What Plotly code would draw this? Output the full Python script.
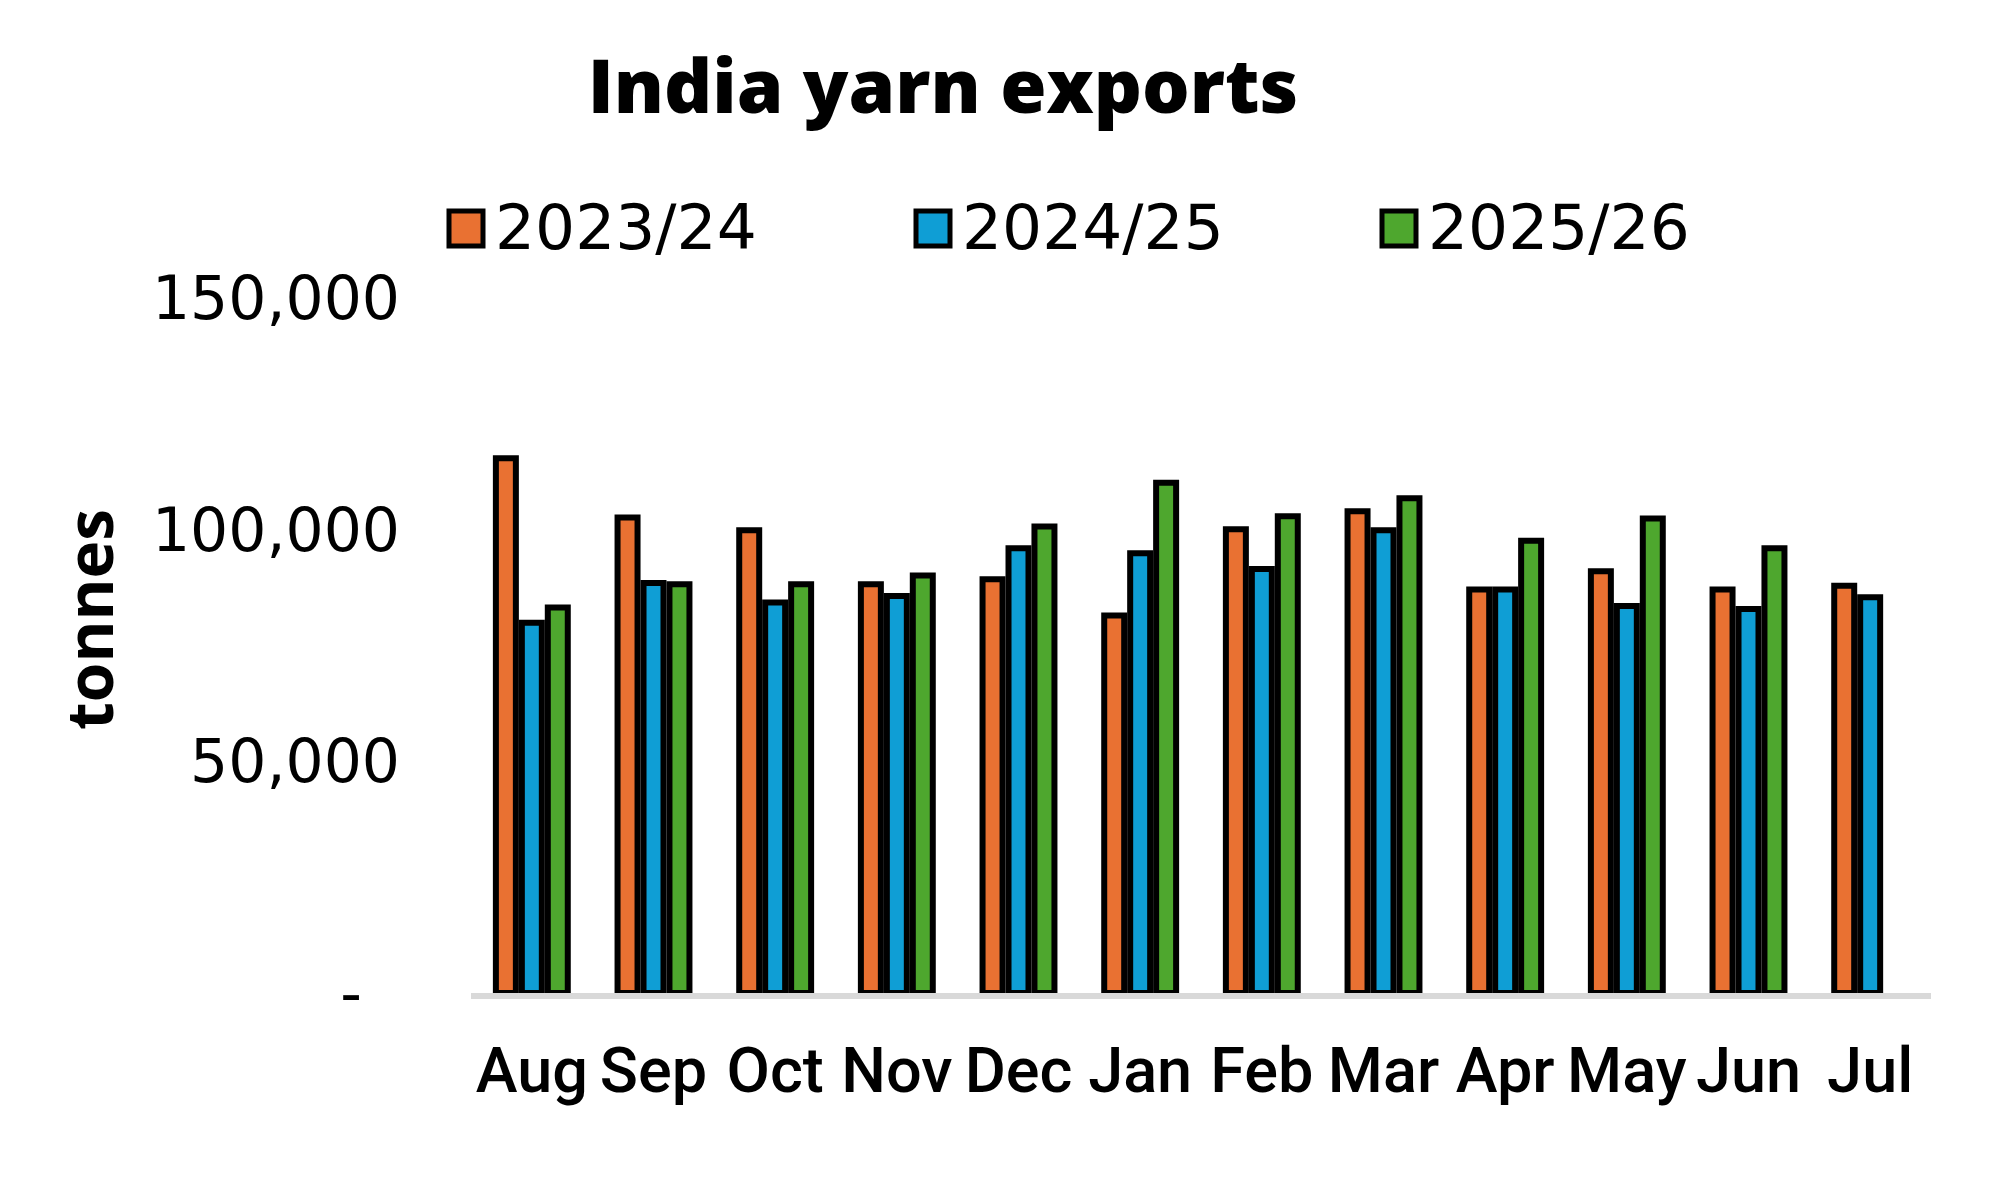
import plotly.graph_objects as go

months = ['Aug', 'Sep', 'Oct', 'Nov', 'Dec', 'Jan', 'Feb', 'Mar', 'Apr', 'May', 'Jun', 'Jul']

y2023_24 = [115400, 102600, 99900, 88200, 89300, 81500, 100100, 104000, 87100, 91000, 87100, 87900]
y2024_25 = [79900, 88500, 84300, 85700, 96000, 94900, 91500, 99900, 87100, 83500, 82900, 85400]
y2025_26 = [83200, 88200, 88200, 90100, 100700, 110100, 102900, 106800, 97600, 102400, 96000, None]

series_names = ['2023/24', '2024/25', '2025/26']
series_colors = ['#E97132', '#0F9ED5', '#4EA72E']

tick_vals = [0, 50000, 100000, 150000]
tick_text = ['-\u00a0\u00a0', '50,000', '100,000', '150,000']

# figure size and plot area in pixels
W, H = 2010, 1180
L, R, T, B = 463, 87, 290, 195


def px_x(x):
    return (x - L) / (W - L - R)


def px_y(y):
    return (H - B - y) / (H - T - B)


fig = go.Figure()
for name, vals, col in zip(series_names, [y2023_24, y2024_25, y2025_26], series_colors):
    fig.add_trace(go.Bar(
        x=months, y=vals, name=name,
        marker=dict(color=col, line=dict(color='black', width=6)),
    ))

## legend drawn by hand so the squares can be large
leg_sq_x = [441, 908, 1374]
for i, (name, col) in enumerate(zip(series_names, series_colors)):
    x0 = leg_sq_x[i]
    fig.add_shape(type='rect', xref='paper', yref='paper',
                  x0=px_x(x0), x1=px_x(x0 + 34), y0=px_y(238), y1=px_y(203),
                  fillcolor=col, line=dict(color='black', width=5))
    fig.add_annotation(text=name, xref='paper', yref='paper',
                       x=px_x(x0 + 44), y=px_y(219), xanchor='left', yanchor='middle',
                       showarrow=False, font=dict(family='DejaVu Sans', size=63, color='black'))

fig.add_annotation(text='tonnes', xref='paper', yref='paper', textangle=-90,
                   x=px_x(80), y=px_y(612), xanchor='center', yanchor='middle',
                   showarrow=False, font=dict(family='Open Sans', size=64, color='black', weight=700))

fig.update_layout(
    width=W, height=H,
    margin=dict(l=L, r=R, t=T, b=B),
    paper_bgcolor='white', plot_bgcolor='white',
    showlegend=False,
    barmode='group', bargap=0.36, bargroupgap=0.23,
    title=dict(text='India yarn exports', x=935 / W, xanchor='center',
               y=1 - 79 / H, yanchor='middle',
               font=dict(family='Open Sans', size=75, color='black', weight=800)),
    xaxis=dict(showline=True, linecolor='#D9D9D9', linewidth=6, showgrid=False,
               ticks='', ticklabelstandoff=17,
               tickfont=dict(family='Roboto', size=63, color='black', weight=500)),
    yaxis=dict(range=[0, 150000], tickvals=tick_vals, ticktext=tick_text,
               showgrid=False, showline=False, zeroline=False, ticks='',
               ticklabelstandoff=70,
               tickfont=dict(family='DejaVu Sans', size=60, color='black')),
)

fig.write_html("out.html")
